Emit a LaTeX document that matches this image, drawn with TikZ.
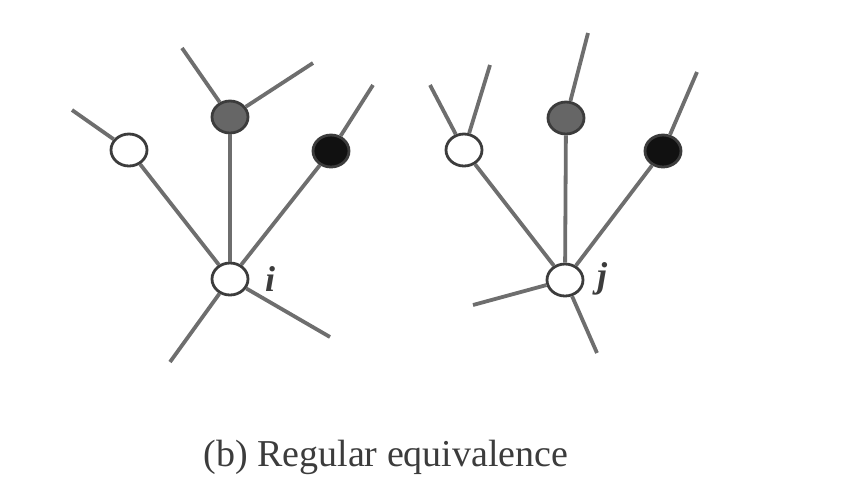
\documentclass[tikz,border=0pt]{standalone}
\usepackage{fontspec}
\setmainfont{Liberation Serif}
\usepackage{tikz}
\usetikzlibrary{shapes.geometric}
\definecolor{edgeGrey}{HTML}{6E6E6E}
\definecolor{rimGrey}{HTML}{3C3C3C}
\definecolor{midGrey}{HTML}{666666}
\definecolor{nearBlack}{HTML}{111111}

\begin{document}
\begin{tikzpicture}[x=0.5pt, y=-0.5pt,
  actor/.style={ellipse, draw=rimGrey, line width=1.4pt, inner sep=0pt,
                minimum width=18pt, minimum height=16pt},
  white/.style={actor, fill=white},
  grey/.style={actor, fill=midGrey},
  black/.style={actor, fill=nearBlack},
  tie/.style={draw=edgeGrey, line width=1.9pt},
  lab/.style={font=\fontsize{18}{20}\selectfont\itshape\bfseries, text=rimGrey}
]
\useasboundingbox (0,0) rectangle (841,479);

% left graph
\node[white] (iNode) at (230,279) {};
\node[white] (iW)    at (129,150) {};
\node[grey]  (iG)    at (230,117) {};
\node[black] (iB)    at (331,151) {};
\node[lab] at (270,279) {i};
\coordinate (iW1) at (72,110);
\coordinate (iG1) at (182,48);
\coordinate (iG2) at (313,63);
\coordinate (iB1) at (373,85);
\coordinate (i1)  at (170,362);
\coordinate (i2)  at (330,337);
\draw[tie] (iNode) -- (iW);
\draw[tie] (iNode) -- (iG);
\draw[tie] (iNode) -- (iB);
\draw[tie] (iW) -- (iW1);
\draw[tie] (iG) -- (iG1);
\draw[tie] (iG) -- (iG2);
\draw[tie] (iB) -- (iB1);
\draw[tie] (iNode) -- (i1);
\draw[tie] (iNode) -- (i2);

% right graph
\node[white] (jNode) at (565,280) {};
\node[white] (jW)    at (464,150) {};
\node[grey]  (jG)    at (566,118) {};
\node[black] (jB)    at (663,151) {};
\node[lab] at (602,279) {j};
\coordinate (jW1) at (430,85);
\coordinate (jW2) at (490,65);
\coordinate (jG1) at (588,33);
\coordinate (jB1) at (697,72);
\coordinate (j1)  at (473,305);
\coordinate (j2)  at (597,353);
\draw[tie] (jNode) -- (jW);
\draw[tie] (jNode) -- (jG);
\draw[tie] (jNode) -- (jB);
\draw[tie] (jW) -- (jW1);
\draw[tie] (jW) -- (jW2);
\draw[tie] (jG) -- (jG1);
\draw[tie] (jB) -- (jB1);
\draw[tie] (jNode) -- (j1);
\draw[tie] (jNode) -- (j2);

\node[font=\fontsize{19}{21}\selectfont, text=rimGrey] (caption) at (386,457)
  {(b) Regular equivalence};
\end{tikzpicture}
\end{document}
